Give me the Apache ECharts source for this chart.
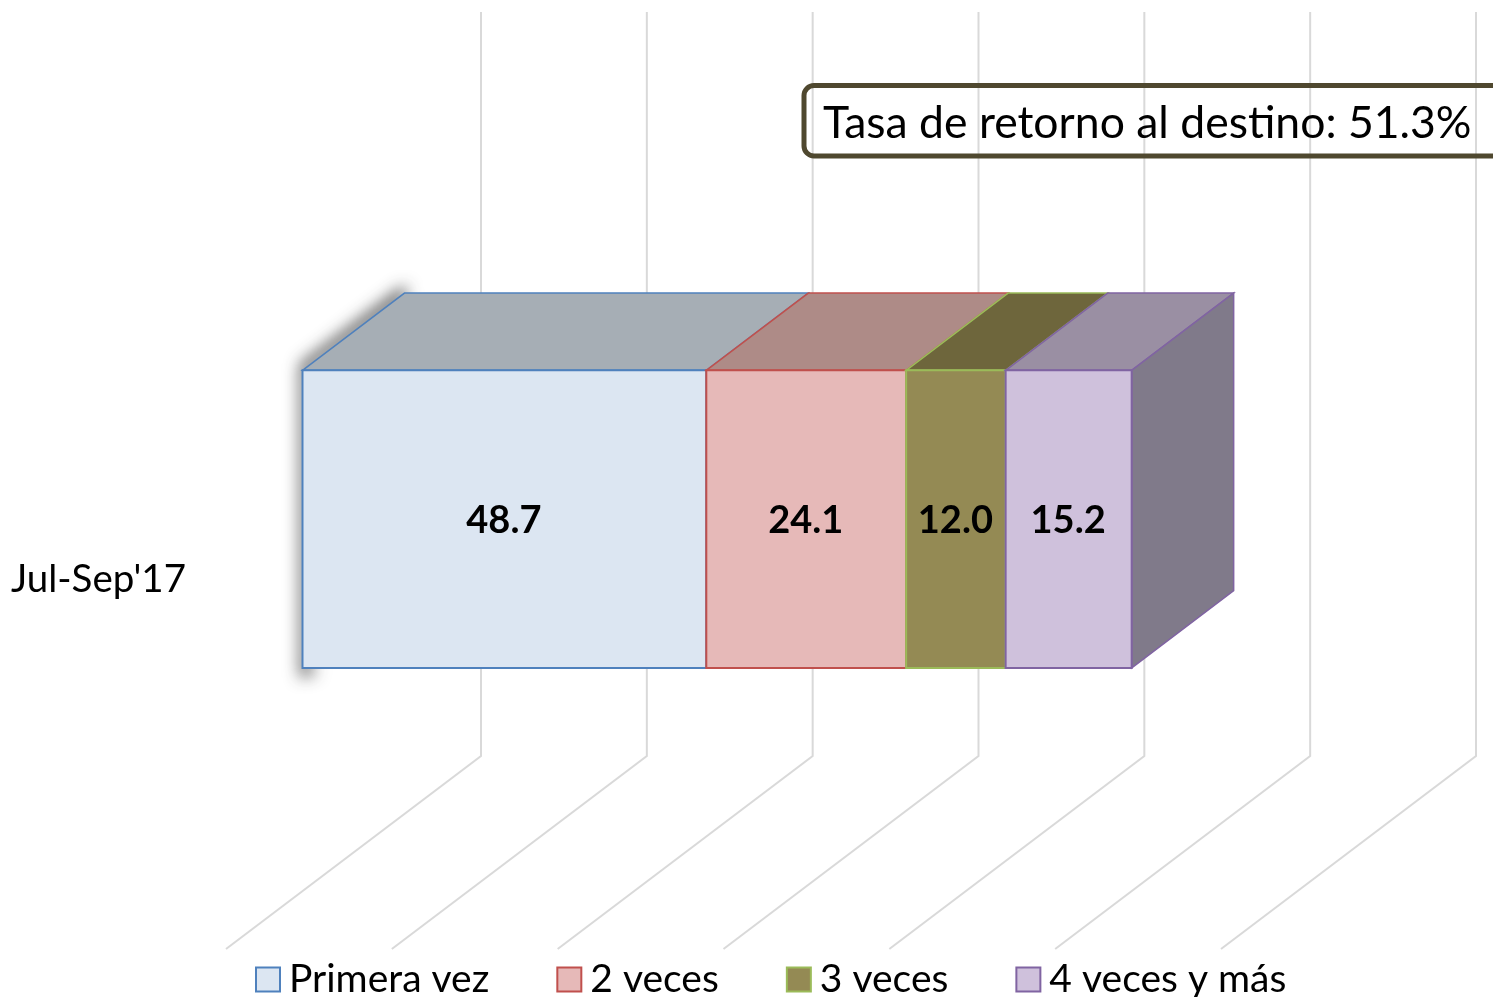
<!DOCTYPE html>
<html><head><meta charset="utf-8">
<style>html,body{margin:0;padding:0;background:#fff;overflow:hidden}#c{width:1493px;height:997px}</style>
<script src="https://cdn.jsdelivr.net/npm/echarts@6/dist/echarts.min.js"></script>
</head><body><div id="c"></div>
<script>
const categories = ["Jul-Sep'17"];
const seriesNames = ['Primera vez', '2 veces', '3 veces', '4 veces y más'];
const primeraVez = [48.7];
const dosVeces = [24.1];
const tresVeces = [12.0];
const cuatroVeces = [15.2];
const ticks = [0, 20, 40, 60, 80, 100, 120];
const tasaRetorno = 51.3;

const seriesValues = [primeraVez, dosVeces, tresVeces, cuatroVeces];
const frontColors = ['#DCE6F2', '#E6B9B8', '#948A54', '#CFC1DC'];
const topColors = ['#A6AEB5', '#AE8B87', '#6E663C', '#9A8FA3'];
const borderColors = ['#4F81BD', '#C0504D', '#9BBB59', '#8064A2'];
const sideColor = '#807A8A';
const FONT = 'Lato';
const DX = 255, DY = 193;      // full floor depth
const NEAR = 0.3, FAR = 0.7;   // bar position within the depth
const BAR = 0.4;               // bar height share of the band

const chart = echarts.init(document.getElementById('c'));

function renderWall(params, api) {
  const v = api.value(0);
  const p = api.coord([v, 0]);
  const band = api.size([0, 1])[1];
  const y0 = p[1] + band / 2;
  return {
    type: 'polyline', silent: true,
    shape: { points: [[p[0], y0], [p[0] + DX, y0 - DY], [p[0] + DX, y0 - DY - band]] },
    style: { fill: null, stroke: '#D9D9D9', lineWidth: 2 }
  };
}

function renderShadow(params, api) {
  const p = api.coord([0, 0]);
  const band = api.size([0, 1])[1];
  const h = band * BAR;
  const x = p[0] + DX * NEAR, yb = p[1] + h / 2 - DY * NEAR;
  const yt = yb - h;
  const ddx = DX * (FAR - NEAR), ddy = DY * (FAR - NEAR);
  const OFF = 3000;
  const pts = [
    [x + ddx + 1, yt - ddy - 8], [x - 2, yt - 6], [x - 2, yb + 10],
    [x + 16, yb + 3], [x + 6, yb], [x + 6, yt], [x + ddx + 1, yt - ddy + 6]
  ].map(q => [q[0] - OFF, q[1]]);
  return {
    type: 'polygon', silent: true,
    shape: { points: pts },
    style: { fill: '#000', shadowBlur: 16, shadowColor: 'rgba(40,40,40,0.85)', shadowOffsetX: OFF, shadowOffsetY: 0 }
  };
}

function makeRender(idx) {
  return function (params, api) {
    const start = api.value(1), end = api.value(2);
    const a = api.coord([start, 0]), b = api.coord([end, 0]);
    const band = api.size([0, 1])[1];
    const h = band * BAR;
    const nx = DX * NEAR, ny = DY * NEAR;
    const ddx = DX * (FAR - NEAR), ddy = DY * (FAR - NEAR);
    const xl = a[0] + nx, xr = b[0] + nx;
    const yb = a[1] + h / 2 - ny, yt = yb - h;
    const stroke = borderColors[idx];
    const children = [];
    children.push({
      type: 'polygon', shape: { points: [[xl, yt], [xl + ddx, yt - ddy], [xr + ddx, yt - ddy], [xr, yt]] },
      style: { fill: topColors[idx], stroke: stroke, lineWidth: 1.5 }
    });
    if (idx === seriesValues.length - 1) {
      children.push({
        type: 'polygon', shape: { points: [[xr, yt], [xr + ddx, yt - ddy], [xr + ddx, yb - ddy], [xr, yb]] },
        style: { fill: sideColor, stroke: stroke, lineWidth: 1.5 }
      });
    }
    children.push({
      type: 'rect', shape: { x: xl, y: yt, width: xr - xl, height: h },
      style: { fill: frontColors[idx], stroke: stroke, lineWidth: 2 }
    });
    children.push({
      type: 'text',
      style: {
        x: (xl + xr) / 2 - 0.5, y: (yt + yb) / 2 + 2, text: api.value(3).toFixed(1),
        fill: '#000', font: 'bold 38px ' + FONT, align: 'center', verticalAlign: 'middle'
      }
    });
    return { type: 'group', children };
  };
}

let cum = 0;
const barSeries = seriesValues.map((vals, i) => {
  const v = vals[0];
  const row = [0, cum, cum + v, v];
  cum += v;
  return {
    type: 'custom', name: seriesNames[i], coordinateSystem: 'cartesian2d', clip: false, z: 5 + i,
    renderItem: makeRender(i),
    encode: { x: [1, 2], y: 0 },
    itemStyle: { color: frontColors[i], borderColor: borderColors[i], borderWidth: 2 },
    data: [row]
  };
});

chart.setOption({
  animation: false,
  backgroundColor: '#fff',
  grid: { left: 226, top: 205, width: 995, height: 744 },
  xAxis: {
    type: 'value', min: 0, max: 120, interval: 20,
    axisLine: { show: false }, axisTick: { show: false }, axisLabel: { show: false }, splitLine: { show: false }
  },
  yAxis: {
    type: 'category', data: categories,
    axisLine: { show: false }, axisTick: { show: false }, splitLine: { show: false },
    axisLabel: { margin: 40, color: '#000', fontFamily: FONT, fontSize: 38.5, verticalAlign: 'top', lineHeight: 6 }
  },
  legend: {
    data: seriesNames, left: 255, top: 960, padding: 0, itemGap: 67, itemWidth: 24, itemHeight: 24, icon: 'rect',
    textStyle: { color: '#000', fontFamily: FONT, fontSize: 39, padding: [0, 0, 0, 4] }
  },
  graphic: [
    {
      type: 'rect', silent: true, z: 20,
      shape: { x: 804, y: 85.5, width: 800, height: 70.5, r: 10 },
      style: { fill: null, stroke: '#4F482F', lineWidth: 5 }
    },
    {
      type: 'text', silent: true, z: 21, x: 823, y: 124,
      style: {
        text: 'Tasa de retorno al destino: ' + tasaRetorno.toFixed(1) + '%',
        fill: '#000', font: '44.5px ' + FONT, verticalAlign: 'middle', align: 'left'
      }
    }
  ],
  series: [
    {
      type: 'custom', name: 'walls', coordinateSystem: 'cartesian2d', clip: false, z: 1, silent: true,
      renderItem: renderWall, encode: { x: 0, y: 1 },
      data: ticks.map(t => [t, 0])
    },
    {
      type: 'custom', name: 'shadow', coordinateSystem: 'cartesian2d', clip: false, z: 2, silent: true,
      renderItem: renderShadow, encode: { x: 0, y: 1 },
      data: [[0, 0]]
    }
  ].concat(barSeries)
});
</script></body></html>
